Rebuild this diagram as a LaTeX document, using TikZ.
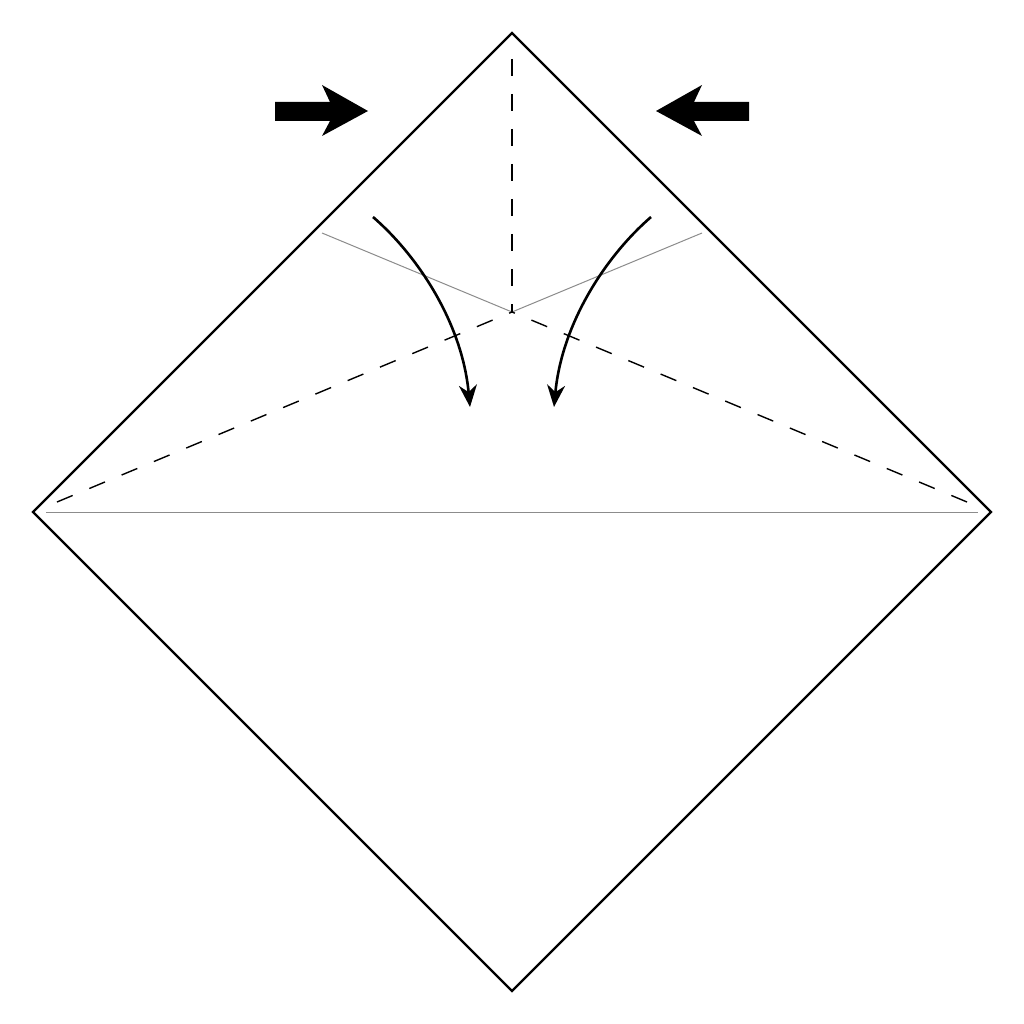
\documentclass[tikz,border=0pt]{standalone}
\usetikzlibrary{arrows.meta}
\begin{document}
\begin{tikzpicture}[x=1pt,y=-1pt,
  edge/.style={line width=2.2pt,line join=miter},
  valley/.style={line width=1.4pt,dash pattern=on 17pt off 18pt},
  crease/.style={line width=1pt,draw=black!45},
  foldarrow/.style={line width=2.6pt,-{Stealth[length=22pt,width=18pt]}},
  block/.style={fill=black,draw=none}]
\useasboundingbox (0,0) rectangle (1024,1024);
\fill[white] (0,0) rectangle (1024,1024);
% corners
\coordinate (T) at (512,33);
\coordinate (L) at (33,512);
\coordinate (R) at (991,512);
\coordinate (B) at (512,991);
\coordinate (C) at (512,312);
% crease lines (grey)
\coordinate (gl) at (322,233);
\coordinate (gr) at (702,233);
\coordinate (hl) at (46,512);
\coordinate (hr) at (978,512);
\draw[crease] (gl) -- (C) -- (gr);
\draw[crease] (hl) -- (hr);
% valley folds
\coordinate (vt) at (512,59);
\coordinate (dl) at (57,502);
\coordinate (dr) at (967,502);
\draw[valley] (vt) -- (C);
\draw[valley] (dl) -- (C);
\draw[valley] (dr) -- (C);
% outline
\draw[edge] (T) -- (R) -- (B) -- (L) -- cycle;
% curved arrows
\coordinate (a1s) at (373,217);
\coordinate (a1e) at (470,407);
\coordinate (a2s) at (651,217);
\coordinate (a2e) at (554,407);
\draw[foldarrow] (a1s) .. controls (417,255) and (462,322) .. (a1e);
\draw[foldarrow] (a2s) .. controls (607,255) and (562,322) .. (a2e);
% block arrows
\fill[block] (275,102) -- (330,102) -- (322,85) -- (368,111) -- (322,136) -- (330,121) -- (275,121) -- cycle;
\fill[block] (749,102) -- (694,102) -- (702,85) -- (656,111) -- (702,136) -- (694,121) -- (749,121) -- cycle;
\end{tikzpicture}
\end{document}
